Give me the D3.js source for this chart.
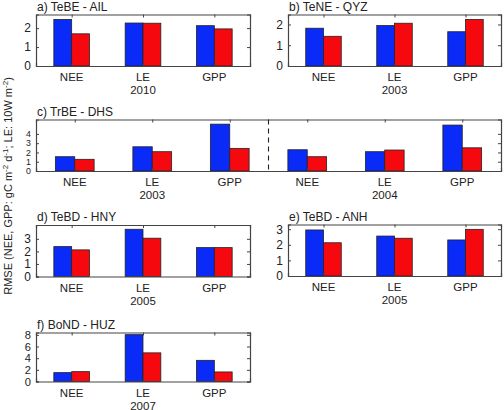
<!DOCTYPE html>
<meta charset="utf-8">
<head>
    <script type="text/javascript" src="https://cdn.jsdelivr.net/npm/d3@7"></script>
    <style>
        body { margin: 0; background: white; }
        text { font-family: "Liberation Sans", Arial, sans-serif; fill: #222; }
    </style>
    <title></title>
</head>
<body>
<script>

    var width = 504
    var height = 410

    // variables on the x axis
    var vars = ["NEE", "LE", "GPP"]

    // blue / red values per panel (RMSE)
    var aBlue = [2.46, 2.27, 2.13]
    var aRed = [1.70, 2.26, 1.96]
    var bBlue = [1.82, 1.95, 1.65]
    var bRed = [1.43, 2.06, 2.24]
    var cBlue = [1.54, 2.61, 5.05, 2.29, 2.08, 4.95]
    var cRed = [1.26, 2.08, 2.44, 1.54, 2.26, 2.50]
    var dBlue = [2.38, 3.76, 2.30]
    var dRed = [2.12, 3.05, 2.30]
    var eBlue = [2.95, 2.56, 2.31]
    var eRed = [2.13, 2.42, 2.99]
    var fBlue = [1.52, 8.03, 3.63]
    var fRed = [1.69, 4.91, 1.64]

    var titles = ["a) TeBE - AIL", "b) TeNE - QYZ", "c) TrBE - DHS", "d) TeBD - HNY", "e) TeBD - ANH", "f) BoND - HUZ"]
    var years = [["2010"], ["2003"], ["2003", "2004"], ["2005"], ["2005"], ["2007"]]
    var yMax = [2.72, 2.48, 5.55, 4.1, 3.3, 8.4]
    var yTicks = [[0, 1, 2], [0, 1, 2], [0, 1, 2, 3, 4], [0, 1, 2, 3], [0, 1, 2, 3], [0, 2, 4, 6, 8]]

    var svg = d3.select("body").append("svg")
        .attr("width", width)
        .attr("height", height)

    function panel(x0, x1, y0, y1, title, blue, red, yrs, ymax, ticks) {
        var cats = []
        yrs.forEach(function (yr, k) {
            vars.forEach(function (v, i) { cats.push(k * 3 + i) })
        })
        var n = cats.length
        var x = d3.scaleLinear().domain([0.5, n + 0.5]).range([x0, x1])
        var y = d3.scaleLinear().domain([0, ymax]).range([y1, y0])
        var g = svg.append("g")
        var bw = (x(1.25) - x(1))
        // tick labels get squeezed when the ticks are close
        var tickFont = Math.min(12, (y(0) - y(ticks[1] - ticks[0])) * 0.95)

        g.selectAll(".blue").data(blue).enter().append("rect")
            .attr("x", (d, i) => x(i + 1) - bw)
            .attr("y", d => y(d))
            .attr("width", bw)
            .attr("height", d => y(0) - y(d))
            .style("fill", "#0a2af7")
            .style("stroke", "#222")
            .style("stroke-width", 0.8)
        g.selectAll(".red").data(red).enter().append("rect")
            .attr("x", (d, i) => x(i + 1))
            .attr("y", d => y(d))
            .attr("width", bw)
            .attr("height", d => y(0) - y(d))
            .style("fill", "#f5090f")
            .style("stroke", "#222")
            .style("stroke-width", 0.8)

        // axes with inward ticks on all sides (matlab box)
        var xt = d3.range(1, n + 1)
        g.append("g").attr("transform", "translate(0," + y1 + ")")
            .call(d3.axisBottom(x).tickValues(xt).tickSize(-3).tickFormat(""))
        g.append("g").attr("transform", "translate(0," + y0 + ")")
            .call(d3.axisTop(x).tickValues(xt).tickSize(-3).tickFormat(""))
        g.append("g").attr("transform", "translate(" + x0 + ",0)")
            .call(d3.axisLeft(y).tickValues(ticks).tickSize(-3).tickPadding(5).tickFormat(d3.format("d")))
        g.append("g").attr("transform", "translate(" + x1 + ",0)")
            .call(d3.axisRight(y).tickValues(ticks).tickSize(-3).tickFormat(""))
        g.selectAll(".domain").attr("stroke", "#444").attr("stroke-width", 1.2)
        g.selectAll(".tick line").attr("stroke", "#444")
        g.selectAll(".tick text").style("font-size", tickFont + "px").style("fill", "#222")
            .style("font-family", "Liberation Sans, Arial, sans-serif")

        // category labels
        g.selectAll(".cat").data(cats).enter().append("text")
            .attr("x", (d, i) => x(i + 1))
            .attr("y", y1 + 15)
            .attr("text-anchor", "middle")
            .style("font-size", "11.5px")
            .text(d => vars[d % 3])
        g.selectAll(".yr").data(yrs).enter().append("text")
            .attr("x", (d, k) => x(k * 3 + 2))
            .attr("y", y1 + 28)
            .attr("text-anchor", "middle")
            .style("font-size", "11.5px")
            .text(d => d)

        if (yrs.length > 1) {
            g.append("line")
                .attr("x1", x(3.5)).attr("x2", x(3.5))
                .attr("y1", y0).attr("y2", y1)
                .style("stroke", "#222")
                .style("stroke-width", 1.1)
                .style("stroke-dasharray", "5,4")
        }

        g.append("text")
            .attr("x", x0 + 1)
            .attr("y", y0 - 4)
            .style("font-size", "12px")
            .text(title)
    }

    panel(36, 250, 14.5, 66, titles[0], aBlue, aRed, years[0], yMax[0], yTicks[0])
    panel(288, 501, 14.5, 66, titles[1], bBlue, bRed, years[1], yMax[1], yTicks[1])
    panel(36, 501, 119.5, 171, titles[2], cBlue, cRed, years[2], yMax[2], yTicks[2])
    panel(36, 250, 225, 276.5, titles[3], dBlue, dRed, years[3], yMax[3], yTicks[3])
    panel(288, 501, 224.5, 276, titles[4], eBlue, eRed, years[4], yMax[4], yTicks[4])
    panel(36, 250, 332.5, 381.5, titles[5], fBlue, fRed, years[5], yMax[5], yTicks[5])

    // shared y label
    var ylab = svg.append("text")
        .attr("transform", "translate(12,186) rotate(-90)")
        .attr("text-anchor", "middle")
        .style("font-size", "11px")
    ylab.append("tspan").text("RMSE (NEE, GPP: gC m")
    ylab.append("tspan").attr("dy", -4).style("font-size", "8px").text("-2")
    ylab.append("tspan").attr("dy", 4).text(" d")
    ylab.append("tspan").attr("dy", -4).style("font-size", "8px").text("-1")
    ylab.append("tspan").attr("dy", 4).text("; LE: 10W m")
    ylab.append("tspan").attr("dy", -4).style("font-size", "8px").text("-2")
    ylab.append("tspan").attr("dy", 4).text(")")

</script>
</body>
</html>
